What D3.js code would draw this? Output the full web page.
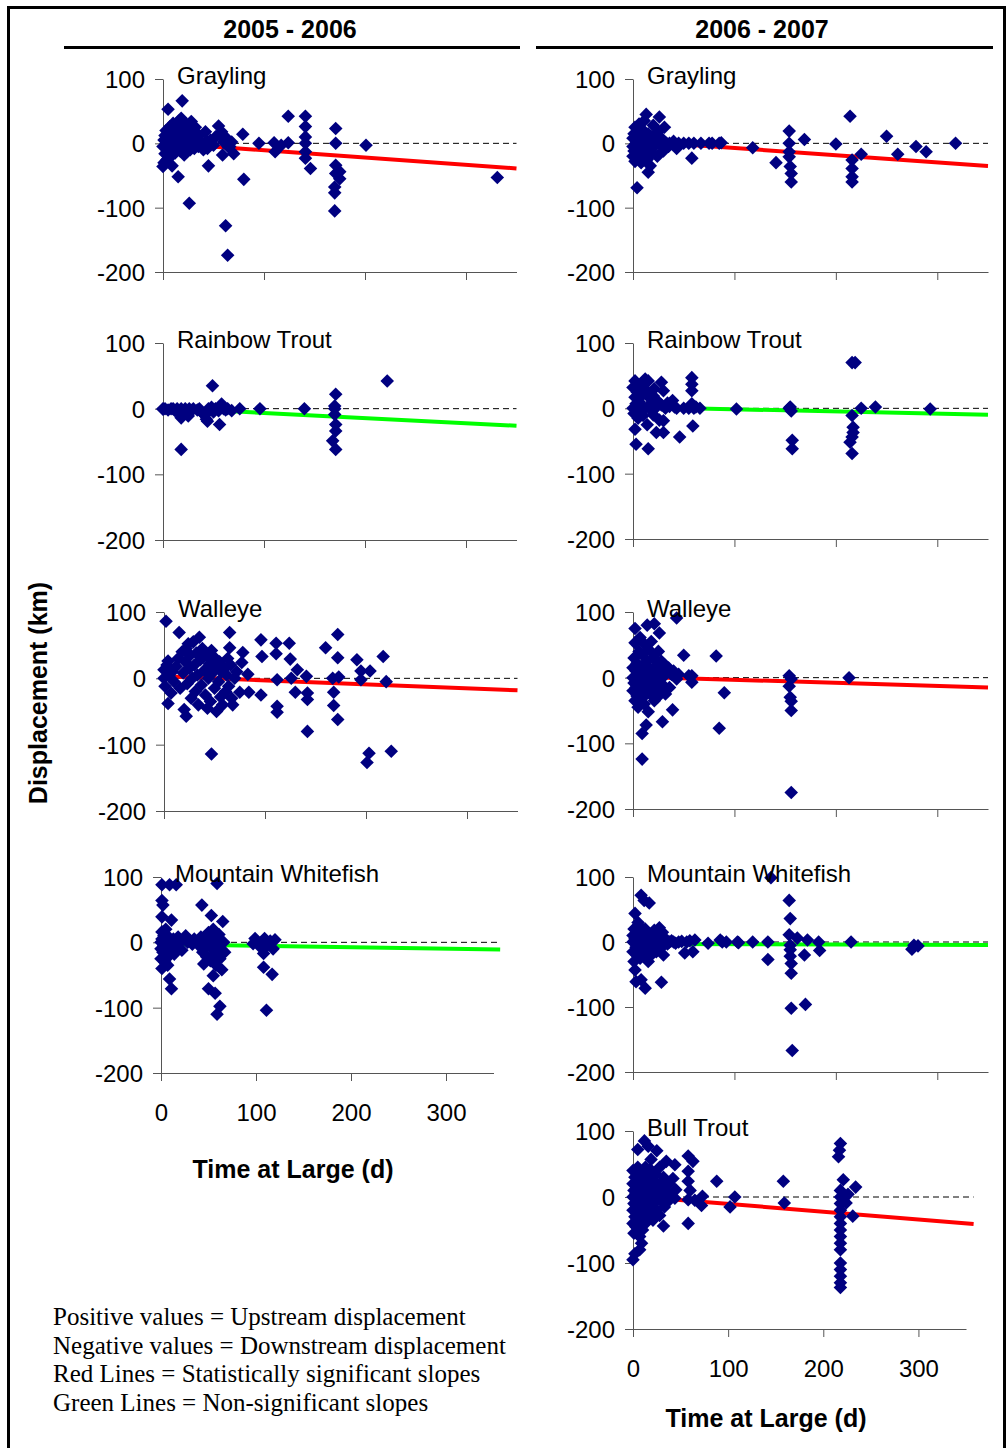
<!DOCTYPE html>
<html>
<head>
<meta charset="utf-8">
<script src="https://cdn.jsdelivr.net/npm/d3@7"></script>
<style>
  body { margin: 0; background: #fff; }
  text { font-family: "Liberation Sans", Arial, sans-serif; }
</style>
</head>
<body>
<script>
// ---- data: [time at large (d), displacement (km)] ----
const grayling0506 = [[0,-36],[1,-30],[2,-16],[0,-5],[1,5],[2,12],[3,20],[4,-25],[5,53],[5,0],[6,-10],[7,26],[8,15],[8,-20],[9,-35],[10,31],[10,5],[11,-8],[12,22],[12,-15],[13,10],[14,-3],[15,-52],[15,20],[16,35],[17,-12],[18,39],[18,5],[19,66],[20,25],[20,-5],[21,-18],[22,12],[23,30],[24,-2],[25,18],[26,-93],[26,8],[27,-10],[28,34],[28,0],[30,16],[31,-8],[32,25],[33,5],[35,-5],[36,12],[38,0],[40,-10],[42,18],[43,3],[44,-8],[45,-35],[47,5],[50,-3],[52,10],[55,27],[57,12],[58,18],[59,-18],[60,2],[62,-128],[63,8],[64,-174],[65,-6],[66,-5],[68,2],[70,-16],[79,14],[80,-56],[95,0],[110,1],[111,-13],[117,-3],[124,1],[124,42],[141,42],[141,26],[141,10],[141,0],[141,-13],[141,-23],[146,-39],[171,23],[171,0],[171,-34],[171,-47],[175,-44],[175,-55],[170,-68],[170,-77],[170,-105],[201,-3],[331,-53]];

const grayling0607 = [[0,-20],[0,-5],[0,8],[1,15],[1,-12],[2,-28],[2,25],[3,0],[4,-69],[4,-10],[5,18],[5,-22],[6,5],[6,30],[7,-15],[8,10],[8,-30],[9,22],[9,-3],[10,-18],[11,35],[12,3],[13,45],[13,-8],[14,-25],[15,-45],[15,15],[16,0],[17,-35],[18,10],[19,-15],[20,28],[21,-5],[22,5],[24,-20],[25,18],[26,41],[27,-3],[28,8],[30,-12],[31,25],[33,0],[35,-5],[36,0],[40,3],[43,-8],[45,0],[50,0],[55,0],[58,-23],[60,0],[67,0],[75,0],[78,0],[85,0],[87,1],[118,-7],[141,-30],[154,19],[154,0],[154,-13],[154,-21],[155,-36],[156,-47],[156,-60],[169,6],[200,-1],[214,42],[216,-26],[216,-39],[216,-52],[216,-60],[225,-17],[250,11],[261,-17],[279,-5],[289,-13],[318,0]];

const rainbow0506 = [[0,0],[0,-1],[2,0],[5,-2],[8,0],[10,0],[12,-3],[14,0],[16,-6],[18,-14],[18,0],[18,-62],[20,-4],[22,0],[25,-11],[26,0],[28,-3],[30,0],[34,-2],[36,0],[38,-5],[40,-8],[43,-16],[44,-19],[45,0],[46,-3],[48,2],[49,35],[50,-5],[52,0],[55,-3],[56,-24],[58,7],[60,0],[62,-2],[64,0],[68,-3],[76,0],[96,0],[140,0],[168,-49],[170,4],[170,0],[170,-9],[171,22],[171,-24],[171,-34],[171,-62],[222,42]];

const rainbow0607 = [[0,32],[0,0],[1,-8],[2,42],[2,17],[2,-32],[3,7],[3,-55],[4,25],[5,-15],[6,10],[7,35],[8,-5],[9,20],[10,-11],[11,0],[12,45],[13,28],[14,-25],[15,42],[15,-62],[16,5],[17,15],[18,-3],[20,19],[20,-10],[21,30],[22,0],[23,-37],[25,10],[26,-18],[28,40],[28,5],[30,27],[30,-19],[30,-37],[32,0],[34,8],[36,3],[39,12],[41,2],[43,0],[46,-44],[50,0],[55,0],[58,47],[58,37],[58,27],[58,7],[59,-27],[60,0],[62,2],[66,0],[102,-1],[154,0],[155,2],[156,-4],[157,-49],[157,-62],[216,70],[219,70],[216,-11],[217,-29],[217,-37],[216,-44],[214,-52],[216,-69],[225,0],[239,2],[293,-1]];

const walleye0506 = [[0,0],[0,13],[1,-12],[2,86],[3,20],[4,26],[4,-38],[5,5],[7,-22],[8,10],[10,-5],[12,18],[14,30],[15,69],[16,-15],[18,40],[19,8],[20,-47],[21,25],[22,-57],[22,45],[23,-8],[24,52],[25,15],[26,35],[27,-30],[28,0],[29,55],[30,20],[31,-20],[32,38],[33,5],[34,-40],[35,62],[36,28],[37,-10],[38,45],[40,12],[41,-25],[42,35],[43,-45],[44,0],[45,22],[46,-35],[47,-114],[47,42],[48,8],[50,-15],[51,30],[52,-50],[53,18],[54,-5],[55,25],[56,-28],[57,10],[58,-40],[60,15],[61,-20],[62,5],[63,30],[64,-12],[65,69],[65,46],[66,20],[67,-30],[68,-40],[70,0],[72,10],[75,-21],[77,24],[78,39],[83,6],[84,-21],[96,58],[96,-25],[97,33],[111,53],[111,37],[112,-2],[112,-42],[112,-51],[124,53],[125,29],[126,0],[130,-21],[132,13],[141,3],[142,-22],[142,-32],[142,-80],[160,46],[167,0],[168,-21],[168,-41],[172,66],[172,31],[172,-62],[173,2],[191,28],[195,11],[195,-2],[201,-127],[203,-113],[204,11],[217,33],[220,-5],[225,-110]];

const walleye0607 = [[0,0],[0,-20],[0,15],[1,-8],[1,30],[2,75],[2,53],[2,-35],[3,10],[3,-15],[4,22],[4,-28],[5,-45],[5,5],[6,40],[6,-10],[7,61],[7,-22],[8,15],[8,-5],[9,-85],[9,-124],[9,35],[10,0],[10,-30],[11,20],[11,-40],[12,50],[12,-12],[13,-72],[13,8],[14,80],[14,25],[15,-52],[15,-18],[16,42],[16,0],[17,-25],[18,12],[18,55],[19,-8],[20,30],[21,82],[21,-35],[22,5],[22,-15],[23,18],[24,-30],[25,40],[25,-5],[26,68],[26,10],[27,-20],[28,25],[29,-67],[29,0],[30,-12],[31,20],[32,-25],[33,8],[35,15],[36,-15],[38,5],[39,-49],[40,10],[43,91],[43,-2],[45,5],[50,34],[55,3],[58,-7],[58,3],[82,33],[85,-77],[90,-23],[154,3],[156,-2],[154,-13],[155,-30],[156,-36],[156,-50],[156,-175],[213,0]];

const whitefish0506 = [[0,0],[0,-10],[0,-25],[1,88],[1,64],[1,39],[1,16],[1,-40],[1,5],[2,57],[2,-15],[3,-5],[3,10],[4,-30],[5,0],[5,20],[6,-12],[7,-35],[8,8],[9,88],[9,-56],[9,-20],[10,0],[11,34],[11,-71],[12,-8],[13,5],[14,-18],[15,2],[16,88],[17,-10],[18,8],[20,0],[22,-12],[24,5],[26,10],[28,0],[30,3],[33,-3],[35,5],[38,0],[40,-5],[42,8],[43,57],[44,-15],[45,-33],[46,2],[47,10],[48,-22],[49,-5],[50,-71],[50,15],[51,0],[52,-28],[53,41],[53,8],[54,-10],[55,-51],[55,20],[56,-18],[57,-78],[57,5],[58,-35],[59,90],[59,-110],[59,0],[60,-8],[61,12],[62,-98],[62,-25],[63,-3],[64,-42],[65,32],[66,0],[67,-15],[97,-2],[99,6],[102,0],[105,-8],[108,-38],[108,-17],[109,6],[111,-104],[112,-5],[115,2],[117,-49],[118,-10],[120,4]];

const whitefish0607 = [[0,0],[0,-15],[0,10],[1,-30],[1,20],[2,44],[2,-43],[2,5],[3,-61],[3,-8],[4,15],[4,-20],[5,30],[5,0],[6,-10],[6,25],[7,-25],[7,8],[8,72],[8,-58],[8,-3],[9,12],[10,-18],[10,2],[11,64],[11,-5],[12,-71],[12,20],[13,-12],[14,5],[15,-30],[16,60],[16,-2],[17,10],[18,-20],[19,3],[20,-8],[21,18],[22,0],[23,-15],[24,8],[25,-5],[26,22],[27,-10],[28,-62],[28,2],[29,15],[30,-20],[31,0],[32,5],[34,-3],[36,0],[38,2],[40,0],[42,-2],[45,0],[48,1],[51,-17],[53,0],[56,2],[59,-15],[61,3],[74,-2],[86,3],[88,0],[92,0],[103,0],[104,-1],[118,0],[133,0],[133,-27],[136,99],[154,64],[155,36],[154,11],[155,-5],[155,-12],[155,-22],[156,-33],[156,-48],[156,-102],[157,-167],[162,6],[169,-20],[170,-96],[172,3],[183,0],[184,-13],[215,0],[275,-11],[277,-5],[281,-6]];

const bull0607 = [[0,-95],[0,-40],[0,-20],[0,0],[0,20],[0,40],[1,-55],[1,10],[1,-10],[2,-86],[2,30],[2,-30],[3,-45],[3,5],[4,15],[4,-15],[5,72],[5,45],[5,-25],[6,-5],[6,35],[7,-80],[7,-60],[7,20],[8,-35],[8,0],[9,-70],[9,10],[10,-50],[10,38],[11,25],[11,-20],[12,85],[12,-8],[13,45],[13,-40],[14,0],[15,-30],[15,18],[16,77],[16,30],[17,-15],[17,5],[18,-25],[18,42],[19,57],[19,-5],[20,12],[21,-35],[22,25],[22,-10],[23,0],[24,35],[25,70],[25,-20],[26,8],[27,15],[28,-28],[28,45],[29,-5],[30,20],[31,5],[32,-44],[32,30],[33,-15],[34,10],[35,54],[36,-8],[38,20],[40,0],[42,28],[44,49],[44,-2],[45,11],[58,62],[63,54],[58,39],[58,24],[58,-4],[58,-40],[60,10],[65,-5],[73,1],[72,-13],[88,24],[107,0],[102,-15],[158,24],[159,-9],[218,81],[217,71],[216,61],[218,10],[218,0],[218,-10],[218,-20],[218,-30],[218,-40],[218,-50],[218,-60],[218,-70],[218,-80],[218,-100],[218,-110],[218,-120],[218,-130],[218,-137],[221,26],[224,-9],[226,4],[231,-29],[234,15]];

// species titles, season headers, regression lines [intercept, slope, last day], significance
const species = ["Grayling", "Rainbow Trout", "Walleye", "Mountain Whitefish", "Bull Trout"];
const seasons = ["2005 - 2006", "2006 - 2007"];
const series0506 = [grayling0506, rainbow0506, walleye0506, whitefish0506];
const series0607 = [grayling0607, rainbow0607, walleye0607, whitefish0607, bull0607];
const trend0506 = [[0.6, -0.113, 350], [1.3, -0.078, 350], [3, -0.06, 350], [-3.1, -0.022, 357]];
const trend0607 = [[3.8, -0.111, 350], [2, -0.034, 350], [1.5, -0.047, 350], [-3, -0.005, 350], [1.3, -0.118, 358]];
const signif0506 = [true, false, true, false];
const signif0607 = [true, false, true, false, true];
const xTicks = [0, 100, 200, 300];
const yTicks = [-200, -100, 0, 100];
const notes = ["Positive values = Upstream displacement",
               "Negative values = Downstream displacement",
               "Red Lines = Statistically significant slopes",
               "Green Lines = Non-significant slopes"];

// ---- layout (pixel frame of each panel) ----
const leftFrames = [
  {x0: 163, x1: 516.5, yTop: 79, yBot: 272},
  {x0: 163, x1: 516.5, yTop: 343, yBot: 540},
  {x0: 164, x1: 517.5, yTop: 612, yBot: 811},
  {x0: 161, x1: 493.5, yTop: 877, yBot: 1073}
];
const rightFrames = [
  {x0: 633, x1: 988, yTop: 79, yBot: 272},
  {x0: 633, x1: 988, yTop: 343, yBot: 539},
  {x0: 633, x1: 988, yTop: 612, yBot: 809},
  {x0: 633, x1: 988, yTop: 877, yBot: 1072},
  {x0: 633, x1: 966, yTop: 1131, yBot: 1329}
];

const svg = d3.select("body").append("svg")
    .attr("width", 1008)
    .attr("height", 1448);

svg.append("rect")
    .attr("x", 8.5).attr("y", 7.5)
    .attr("width", 996).attr("height", 1460)
    .attr("fill", "none")
    .attr("stroke", "#000")
    .attr("stroke-width", 3);

// season headers
[[seasons[0], 290, 64, 520], [seasons[1], 762, 536, 993]].forEach(([t, cx, l, r]) => {
  svg.append("text")
      .attr("x", cx).attr("y", 38)
      .attr("text-anchor", "middle")
      .style("font-weight", "bold")
      .style("font-size", "25px")
      .text(t);
  svg.append("line")
      .attr("x1", l).attr("x2", r)
      .attr("y1", 47.5).attr("y2", 47.5)
      .attr("stroke", "#000")
      .attr("stroke-width", 3);
});

const diamond = d3.symbol().type(d3.symbolSquare).size(92);

function drawPanel(frame, data, trend, sig, title, showX) {
  const x = d3.scaleLinear().domain([0, 350]).range([frame.x0, frame.x1]);
  const y = d3.scaleLinear().domain([-200, 100]).range([frame.yBot, frame.yTop]);
  const g = svg.append("g");

  const ya = g.append("g")
      .attr("transform", `translate(${frame.x0},0)`)
      .call(d3.axisLeft(y).tickValues(yTicks).tickSize(8).tickSizeOuter(0)
        .tickPadding(10).tickFormat(d => String(d)));
  const xa = g.append("g")
      .attr("transform", `translate(0,${frame.yBot})`)
      .call(d3.axisBottom(x).tickValues(xTicks).tickSize(8).tickSizeOuter(0)
        .tickPadding(23).tickFormat(d => showX ? String(d) : ""));
  [ya, xa].forEach(a => {
    a.selectAll("path, line").attr("stroke", "#555");
    a.selectAll("text").attr("fill", "#000")
        .style("font-size", "24px")
        .style("font-family", "'Liberation Sans', Arial, sans-serif");
  });
  ya.selectAll("text").attr("dy", "0.36em");

  // zero reference
  g.append("line")
      .attr("x1", x(0)).attr("x2", x(trend[2]))
      .attr("y1", y(0)).attr("y2", y(0))
      .attr("stroke", "#000")
      .attr("stroke-width", 1)
      .attr("stroke-dasharray", "6,4");

  // regression line
  g.append("line")
      .attr("x1", x(0)).attr("y1", y(trend[0]))
      .attr("x2", x(trend[2])).attr("y2", y(trend[0] + trend[1] * trend[2]))
      .attr("stroke", sig ? "#ff0000" : "#00ff00")
      .attr("stroke-width", 4);

  g.append("g").selectAll("path")
    .data(data)
    .join("path")
      .attr("d", diamond)
      .attr("transform", d => `translate(${x(d[0])},${y(d[1])}) rotate(45)`)
      .attr("fill", "#000080");

  g.append("text")
      .attr("x", frame.x0 + 14).attr("y", frame.yTop + 5)
      .style("font-size", "24px")
      .text(title);
}

series0506.forEach((d, i) =>
  drawPanel(leftFrames[i], d, trend0506[i], signif0506[i], species[i], i === series0506.length - 1));
series0607.forEach((d, i) =>
  drawPanel(rightFrames[i], d, trend0607[i], signif0607[i], species[i], i === series0607.length - 1));

// axis titles
[[293, 1178], [766, 1427]].forEach(([cx, cy]) =>
  svg.append("text")
      .attr("x", cx).attr("y", cy)
      .attr("text-anchor", "middle")
      .style("font-weight", "bold")
      .style("font-size", "25px")
      .text("Time at Large (d)"));

svg.append("text")
    .attr("transform", "translate(47,693) rotate(-90)")
    .attr("text-anchor", "middle")
    .style("font-weight", "bold")
    .style("font-size", "25px")
    .text("Displacement (km)");

svg.append("g").selectAll("text")
  .data(notes)
  .join("text")
    .attr("x", 53)
    .attr("y", (d, i) => 1325 + i * 28.7)
    .style("font-family", "'Liberation Serif', 'Times New Roman', serif")
    .style("font-size", "25px")
    .text(d => d);
</script>
</body>
</html>
